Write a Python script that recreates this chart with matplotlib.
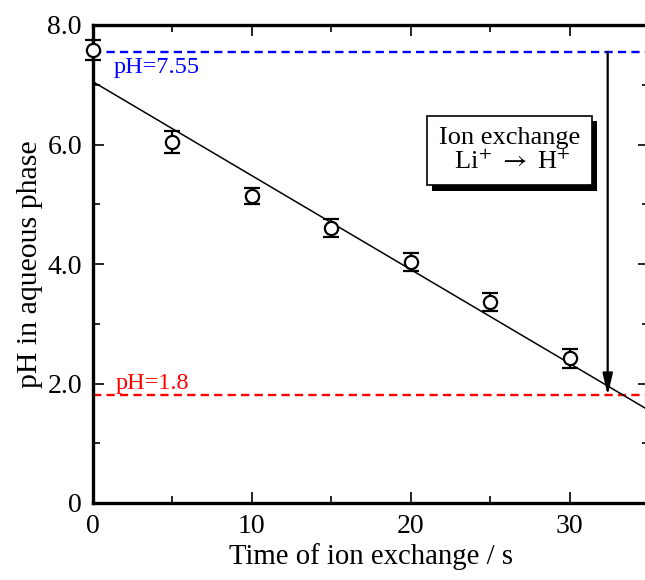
import matplotlib
matplotlib.use("Agg")
import matplotlib.pyplot as plt
import matplotlib.patheffects as pe
from matplotlib.ticker import MultipleLocator

plt.rcParams['font.family'] = ['Liberation Serif', 'DejaVu Serif']
plt.rcParams['mathtext.fontset'] = 'stix'

# data
time_s = [0, 5, 10, 15, 20, 25, 30]
ph = [7.58, 6.04, 5.14, 4.60, 4.03, 3.37, 2.42]
ph_err = [0.17, 0.18, 0.13, 0.15, 0.15, 0.15, 0.16]
fit_x = [0, 35]
fit_y = [7.05, 1.55]
ph_initial = 7.55
ph_final = 1.8
arrow_x = 32.4
xticks = [0, 10, 20, 30]
xticklabels = ['0', '10', '20', '30']
yticks = [0, 2, 4, 6, 8]
yticklabels = ['0', '2.0', '4.0', '6.0', '8.0']

fig = plt.figure(figsize=(6.45, 5.8), dpi=100)
ax = fig.add_axes([93/645, 77/580, 556/645, 478/580])

ax.plot(fit_x, fit_y, color='black', lw=1.1, zorder=2)
ax.axhline(ph_initial, color='#0000ff', lw=1.7, ls=(0, (3.5, 2.2)), zorder=1)
ax.axhline(ph_final, color='#ff0000', lw=1.7, ls=(0, (3.5, 2.2)), zorder=1)
ax.errorbar(time_s, ph, yerr=ph_err, fmt='o', mfc='white', mec='black', mew=1.6,
            ms=9.5, ecolor='black', elinewidth=1.6, capsize=6, capthick=1.6, zorder=4,
            clip_on=False)

ax.annotate('', xy=(arrow_x, ph_final), xytext=(arrow_x, ph_initial),
            arrowprops=dict(arrowstyle='-|>,head_length=1.3,head_width=0.3',
                            color='black', lw=1.6, shrinkA=0, shrinkB=0), zorder=3)

ax.text(1.3, ph_initial - 0.08, 'pH=7.55', color='#0000ff', fontsize=17.5, va='top', ha='left')
ax.text(1.4, ph_final + 0.02, 'pH=1.8', color='#ff0000', fontsize=17.5, va='bottom', ha='left')

t = ax.text(26.2, 5.9, 'Ion exchange\n Li$^{+}$ $\\rightarrow$ H$^{+}$', fontsize=19,
            ha='center', va='center', linespacing=1.0, multialignment='center',
            bbox=dict(boxstyle='square,pad=0.45', fc='white', ec='black', lw=1.2), zorder=5)
t.get_bbox_patch().set_path_effects([
    pe.SimplePatchShadow(offset=(4, -4), shadow_rgbFace='black', alpha=1.0),
    pe.Normal()])

ax.set_xlim(0, 35)
ax.set_ylim(0, 8)
ax.set_xticks(xticks)
ax.set_xticklabels(xticklabels)
ax.set_yticks(yticks)
ax.set_yticklabels(yticklabels)
ax.xaxis.set_minor_locator(MultipleLocator(5))
ax.yaxis.set_minor_locator(MultipleLocator(1))
ax.tick_params(which='both', direction='in', top=True, right=True, labelsize=20, width=1.2)
ax.tick_params(which='major', length=8, pad=8)
ax.tick_params(which='minor', length=5)
for s in ['left', 'bottom', 'top']:
    ax.spines[s].set_linewidth(2.4)
ax.spines['right'].set_linewidth(1.5)

ax.set_xlabel('Time of ion exchange / s', fontsize=20.7, labelpad=3)
ax.set_ylabel('pH in aqueous phase', fontsize=21.5, labelpad=3)

fig.savefig('out.png', dpi=100)
